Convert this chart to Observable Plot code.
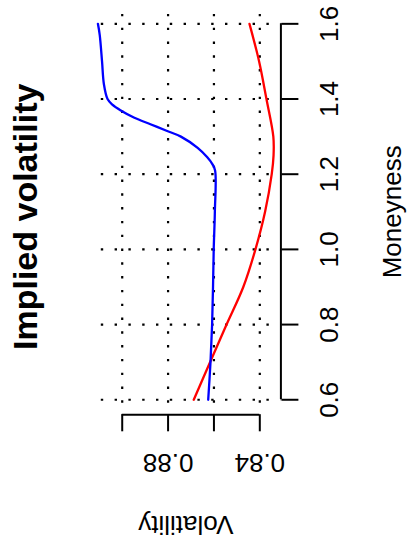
<!DOCTYPE html>
<html>
<head>
<meta charset="utf-8">
<script src="https://cdn.jsdelivr.net/npm/d3@7"></script>
<script src="https://cdn.jsdelivr.net/npm/@observablehq/plot@0.6"></script>
<style>
  html, body { margin: 0; padding: 0; background: #ffffff; }
  #chart { width: 409px; height: 548px; }
</style>
</head>
<body>
<div id="chart"></div>
<script>
// Moneyness ticks and volatility ticks
const monTicks = [0.6, 0.8, 1.0, 1.2, 1.4, 1.6];
const volTicks = [0.84, 0.86, 0.88, 0.90];
const volTickLabels = [0.84, 0.88];
const monDomain = [0.56, 1.64];
const volDomain = [0.9137, 0.8308];

// Red curve
const redMoneyness = [0.60, 0.70, 0.80, 0.90, 1.00, 1.10, 1.20, 1.25, 1.30, 1.40, 1.50, 1.60];
const redVol       = [0.8688, 0.8617, 0.8545, 0.8472, 0.8419, 0.8377, 0.8348, 0.8340, 0.8341, 0.8371, 0.8403, 0.8445];

// Blue curve
const blueMoneyness = [0.60, 0.70, 0.80, 0.90, 1.00, 1.10, 1.21, 1.227, 1.245, 1.27, 1.30, 1.315, 1.333, 1.35, 1.37, 1.385, 1.40, 1.44, 1.50, 1.57, 1.60];
const blueVol       = [0.8625, 0.8615, 0.8608, 0.8604, 0.8601, 0.8596, 0.8595, 0.8607, 0.8629, 0.8671, 0.8744, 0.8804, 0.8877, 0.8947, 0.9008, 0.9043, 0.9064, 0.9080, 0.9088, 0.9098, 0.9106];

const red = redMoneyness.map((m, i) => ({m, v: redVol[i]}));
const blue = blueMoneyness.map((m, i) => ({m, v: blueVol[i]}));

const font = "'Liberation Sans', Arial, Helvetica, sans-serif";
const dash = "2.4,11.4";

const chart = Plot.plot({
  width: 409,
  height: 548,
  marginLeft: 90.3,
  marginRight: 128.6,
  marginTop: 8.3,
  marginBottom: 133.7,
  x: {domain: volDomain, axis: null},
  y: {domain: monDomain, axis: null},
  style: {fontFamily: font, background: "#ffffff", color: "#000000", overflow: "visible"},
  marks: [
    Plot.gridY(monTicks, {stroke: "#000000", strokeOpacity: 1, strokeWidth: 2.2, strokeDasharray: dash, strokeDashoffset: 3.3}),
    Plot.gridX(volTicks, {stroke: "#000000", strokeOpacity: 1, strokeWidth: 2.2, strokeDasharray: dash, strokeDashoffset: 8.2}),
    Plot.line(red, {x: "v", y: "m", stroke: "#ff0000", strokeWidth: 2.3, curve: "catmull-rom"}),
    Plot.line(blue, {x: "v", y: "m", stroke: "#0000ff", strokeWidth: 2.3, curve: "catmull-rom"}),
    Plot.ruleX([volDomain[1]], {y1: monTicks[0], y2: monTicks[monTicks.length - 1], stroke: "#000000", strokeWidth: 2}),
    Plot.ruleY([monDomain[0]], {x1: volTicks[0], x2: volTicks[volTicks.length - 1], stroke: "#000000", strokeWidth: 2}),
    Plot.axisY(monTicks, {anchor: "right", tickSize: 17, tickFormat: () => "", stroke: "#000000", strokeWidth: 2, label: null}),
    Plot.axisX(volTicks, {anchor: "bottom", tickSize: 17, tickFormat: () => "", stroke: "#000000", strokeWidth: 2, label: null}),
    Plot.text(monTicks, {y: d => d, text: d => d.toFixed(1), frameAnchor: "right", dx: 49, rotate: -90, fontSize: 26, lineAnchor: "middle", textAnchor: "middle", fill: "#000000"}),
    Plot.text(volTickLabels, {x: d => d, text: d => d.toFixed(2), frameAnchor: "bottom", dy: 48, rotate: 180, fontSize: 26, lineAnchor: "middle", textAnchor: "middle", fill: "#000000"}),
    Plot.text(["Moneyness"], {frameAnchor: "right", dx: 112, rotate: -90, fontSize: 26, lineAnchor: "middle", textAnchor: "middle", fill: "#000000"}),
    Plot.text(["Volatility"], {frameAnchor: "bottom", dy: 110, rotate: 180, fontSize: 26, lineAnchor: "middle", textAnchor: "middle", fill: "#000000"}),
    Plot.text(["Implied volatility"], {frameAnchor: "left", dx: -64.2, dy: 5, rotate: -90, fontSize: 34, fontWeight: "bold", lineAnchor: "middle", textAnchor: "middle", fill: "#000000"})
  ]
});

document.getElementById("chart").appendChild(chart);
</script>
</body>
</html>
